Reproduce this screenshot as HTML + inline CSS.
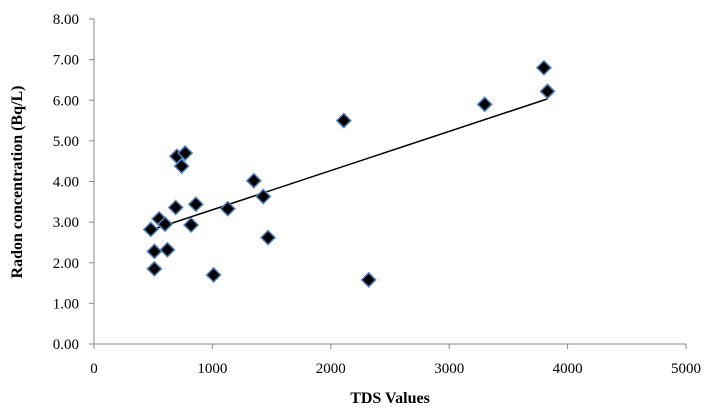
<!DOCTYPE html>
<html><head><meta charset="utf-8"><style>
body{margin:0;background:#fff;}
svg{display:block;font-family:"Liberation Serif",serif;}
</style></head><body>
<svg width="712" height="412" id="c">
<text x="22" y="182" transform="rotate(-90 22 182)" text-anchor="middle" font-size="16" font-weight="bold">Radon concentration  (Bq/L)</text>
<text x="390" y="403" text-anchor="middle" font-size="16" font-weight="bold">TDS Values</text>
</svg>
<script>
const tds=[480,510,510,550,600,620,690,700,740,770,820,860,1010,1130,1350,1430,1470,2110,2320,3300,3800,3830];
const radon=[2.82,2.28,1.85,3.08,2.95,2.32,3.36,4.62,4.38,4.70,2.93,3.44,1.70,3.33,4.02,3.63,2.62,5.50,1.58,5.90,6.80,6.22];
const xTicks=[0,1000,2000,3000,4000,5000];
const yTicks=[0,1,2,3,4,5,6,7,8];
const svg=document.getElementById('c');const NS='http://www.w3.org/2000/svg';
const X=v=>94+v/5000*592, Y=v=>344-v/8*325;
function mk(t,a){const e=document.createElementNS(NS,t);for(const k in a)e.setAttribute(k,a[k]);svg.appendChild(e);return e;}
let ax=mk('line',{x1:94,y1:Y(8),x2:94,y2:344,stroke:'#888'});


ax=mk('line',{x1:94,y1:344,x2:686,y2:344,stroke:'#888'});


yTicks.forEach(v=>{mk('line',{x1:89,x2:94,y1:Y(v),y2:Y(v),stroke:'#888'});
const t=mk('text',{x:79,y:Y(v)+5,'text-anchor':'end','font-size':15});t.textContent=v.toFixed(2);

});
xTicks.forEach(v=>{mk('line',{x1:X(v),x2:X(v),y1:344,y2:349,stroke:'#888'});
const t=mk('text',{x:X(v),y:373,'text-anchor':'middle','font-size':15});t.textContent=v;

});
// trendline (least squares)
const n=tds.length,mx=tds.reduce((a,b)=>a+b)/n,my=radon.reduce((a,b)=>a+b)/n;
let sxy=0,sxx=0;for(let i=0;i<n;i++){sxy+=(tds[i]-mx)*(radon[i]-my);sxx+=(tds[i]-mx)**2;}
const b=sxy/sxx,a=my-b*mx,x0=Math.min(...tds),x1=Math.max(...tds);
const tl=mk('line',{x1:X(x0),y1:Y(a+b*x0),x2:X(x1),y2:Y(a+b*x1),stroke:'#000','stroke-width':1.5});


tds.forEach((v,i)=>{const cx=X(v),cy=Y(radon[i]);
const p=mk('polygon',{points:`${cx},${cy-7} ${cx+7},${cy} ${cx},${cy+7} ${cx-7},${cy}`,fill:'#000',stroke:'#4f81bd','stroke-width':1.5});

});
</script>
</body></html>
